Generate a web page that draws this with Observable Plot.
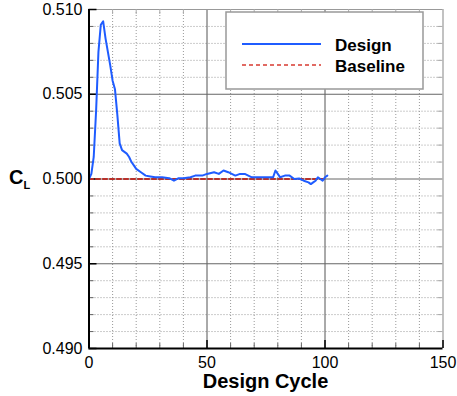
<!DOCTYPE html>
<html>
<head>
<meta charset="utf-8">
<script src="https://cdn.jsdelivr.net/npm/d3@7"></script>
<script src="https://cdn.jsdelivr.net/npm/@observablehq/plot@0.6"></script>
<style>
  html, body { margin: 0; padding: 0; background: #fff; }
  #chart svg { display: block; }
</style>
</head>
<body>
<div id="chart"></div>
<script>
// Lift coefficient history over design cycles
const cycles = [0, 1, 2, 3, 4, 5, 6, 7, 8, 9, 10, 11, 12, 13, 14, 15, 16, 17, 18, 19, 20,
  22, 24, 26, 28, 31, 34, 36, 38, 40, 43, 45, 48, 50, 53, 55, 57, 59, 62, 64, 66, 69, 72,
  75, 78, 79, 80, 81, 83, 85, 87, 89, 91, 93, 94, 95, 96, 97, 98, 99, 100, 101];
const designCL = [0.5000, 0.5003, 0.5013, 0.5040, 0.5075, 0.5091, 0.5093, 0.5083, 0.5075,
  0.5067, 0.5058, 0.5053, 0.5038, 0.5021, 0.5017, 0.5016, 0.5015, 0.5013, 0.5010, 0.5008,
  0.5006, 0.5004, 0.5002, 0.50015, 0.5001, 0.5001, 0.50005, 0.4999, 0.50005, 0.50005,
  0.5001, 0.5002, 0.5002, 0.5003, 0.5004, 0.5003, 0.5005, 0.5004, 0.5002, 0.5003, 0.5003,
  0.5001, 0.5001, 0.5001, 0.5001, 0.5005, 0.5003, 0.5001, 0.5002, 0.5002, 0.5000, 0.50003,
  0.4999, 0.4998, 0.4997, 0.4998, 0.4999, 0.5001, 0.5000, 0.4999, 0.5001, 0.5002];
const baselineCycles = [0, 100];
const baselineCL = [0.5, 0.5];

const xMajorTicks = [0, 50, 100, 150];
const xMinorTicks = [10, 20, 30, 40, 60, 70, 80, 90, 110, 120, 130, 140];
const yMajorTicks = [0.490, 0.495, 0.500, 0.505, 0.510];
const yMinorTicks = [0.491, 0.492, 0.493, 0.494, 0.496, 0.497, 0.498, 0.499,
  0.501, 0.502, 0.503, 0.504, 0.506, 0.507, 0.508, 0.509];
const legendLabels = ["Design", "Baseline"];
const xTitle = "Design Cycle";

const W = 457, H = 396, mL = 88.5, mR = 14.5, mT = 9, mB = 48;
const innerW = W - mL - mR, innerH = H - mT - mB;
const blue = "#1f5cff", red = "#b8302a";
const font = "'Liberation Sans', Arial, Helvetica, sans-serif";

const design = cycles.map((c, i) => ({cycle: c, cl: designCL[i]}));
const baseline = baselineCycles.map((c, i) => ({cycle: c, cl: baselineCL[i]}));

const chart = Plot.plot({
  width: W, height: H,
  marginLeft: mL, marginRight: mR, marginTop: mT, marginBottom: mB,
  style: {fontFamily: font, background: "#fff", color: "#000"},
  x: {domain: [0, 150]},
  y: {domain: [0.490, 0.510]},
  marks: [
    // dotted minor grid
    Plot.ruleX(xMinorTicks, {stroke: "#999", strokeDasharray: "1,2", strokeWidth: 1}),
    Plot.ruleY(yMinorTicks, {stroke: "#999", strokeDasharray: "1,2", strokeWidth: 1}),
    // solid major grid
    Plot.ruleX([50, 100], {stroke: "#555", strokeWidth: 1}),
    Plot.ruleY([0.495, 0.500, 0.505], {stroke: "#666", strokeWidth: 1}),
    // upper and right frame
    Plot.ruleY([0.510], {stroke: "#999", strokeWidth: 1.2}),
    Plot.ruleX([150], {stroke: "#999", strokeWidth: 1.2}),
    // inward ticks, left and bottom
    Plot.tickY(yMinorTicks, {insetRight: innerW - 5, stroke: "#666"}),
    Plot.tickY(yMajorTicks, {insetRight: innerW - 8, stroke: "#000", strokeWidth: 1.5}),
    Plot.tickX(xMinorTicks, {insetTop: innerH - 5, stroke: "#666"}),
    Plot.tickX(xMajorTicks, {insetTop: innerH - 8, stroke: "#000", strokeWidth: 1.5}),
    // mirrored ticks, top and right
    Plot.tickX(xMinorTicks, {insetBottom: innerH - 5, stroke: "#aaa"}),
    Plot.tickY(yMinorTicks, {insetLeft: innerW - 5, stroke: "#aaa"}),
    // tick labels
    Plot.axisX(xMajorTicks, {tickSize: 0, tickPadding: 8.5, fontSize: 16, label: null,
      tickFormat: d => String(d)}),
    Plot.axisY(yMajorTicks, {tickSize: 0, tickPadding: 6.5, fontSize: 16, label: null,
      tickFormat: d3.format(".3f")}),
    // series
    Plot.line(baseline, {x: "cycle", y: "cl", stroke: red, strokeWidth: 2.2, strokeDasharray: "4,3"}),
    Plot.line(design, {x: "cycle", y: "cl", stroke: blue, strokeWidth: 2}),
    // left and bottom axis lines
    Plot.ruleX([0], {stroke: "#000", strokeWidth: 2}),
    Plot.ruleY([0.490], {stroke: "#000", strokeWidth: 2})
  ]
});

document.getElementById("chart").appendChild(chart);

const svg = d3.select(chart);

// axis titles
svg.append("text")
  .attr("x", mL + innerW / 2).attr("y", 388)
  .attr("text-anchor", "middle")
  .attr("font-family", font).attr("font-weight", "bold").attr("font-size", 20)
  .attr("fill", "#000")
  .text(xTitle);

const cl = svg.append("text")
  .attr("x", 9).attr("y", 183.5)
  .attr("text-anchor", "start")
  .attr("font-family", font).attr("font-weight", "bold").attr("font-size", 20)
  .attr("fill", "#000");
cl.append("tspan").text("C");
cl.append("tspan").attr("font-size", 11).attr("dy", 5).text("L");

// legend box
const lg = svg.append("g");
lg.append("rect")
  .attr("x", 226).attr("y", 12).attr("width", 197).attr("height", 77)
  .attr("fill", "#fff").attr("stroke", "#999").attr("stroke-width", 1.5);
const legendStyles = [
  {stroke: blue, dash: null, y: 44},
  {stroke: "#d83a30", dash: "4,3", y: 65}
];
legendLabels.forEach((label, i) => {
  const s = legendStyles[i];
  lg.append("line")
    .attr("x1", 242).attr("x2", 321).attr("y1", s.y).attr("y2", s.y)
    .attr("stroke", s.stroke).attr("stroke-width", i === 0 ? 2 : 1.5)
    .attr("stroke-dasharray", s.dash);
  lg.append("text")
    .attr("x", 335).attr("y", s.y + 6.5)
    .attr("text-anchor", "start")
    .attr("font-family", font).attr("font-weight", "bold").attr("font-size", 17)
    .attr("fill", "#000")
    .text(label);
});
</script>
</body>
</html>
